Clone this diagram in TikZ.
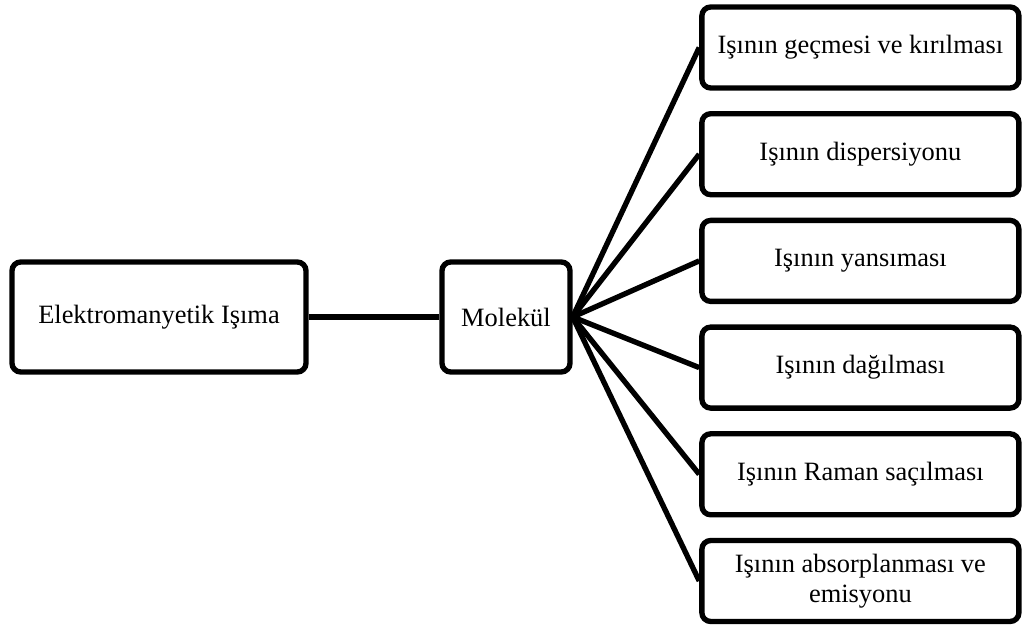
\documentclass[tikz,border=0pt]{standalone}
\usepackage{fontspec}
\setmainfont{Liberation Serif}

\tikzset{
  box/.style={draw, line width=3.8pt, rounded corners=0.22cm, align=center,
    inner sep=0pt, font=\fontsize{18.8}{21}\selectfont},
  bigbox/.style={box, minimum height=2.75cm},
  leafbox/.style={box, minimum width=7.925cm, minimum height=2.025cm},
  link/.style={line width=3.8pt}
}

\begin{document}
\begin{tikzpicture}
  \useasboundingbox (0,0) rectangle (25.625cm,15.675cm);
  % left part
  \node[bigbox, minimum width=7.35cm] (isima) at (3.975cm,7.75cm) {Elektromanyetik Işıma};
  \node[bigbox, minimum width=3.2cm] (molekul) at (12.65cm,7.75cm) {Molekül};
  % right column
  \node[leafbox] (gecme) at (21.51cm,14.4875cm) {Işının geçmesi ve kırılması};
  \node[leafbox] (dispersiyon) at (21.51cm,11.82cm) {Işının dispersiyonu};
  \node[leafbox] (yansima) at (21.51cm,9.1525cm) {Işının yansıması};
  \node[leafbox] (dagilma) at (21.51cm,6.485cm) {Işının dağılması};
  \node[leafbox] (raman) at (21.51cm,3.8175cm) {Işının Raman saçılması};
  \node[leafbox] (absorp) at (21.51cm,1.15cm) {Işının absorplanması ve\\emisyonu};
  % connectors
  \draw[link] (isima) -- (molekul);
  \draw[link] (molekul.east) -- (gecme.west);
  \draw[link] (molekul.east) -- (dispersiyon.west);
  \draw[link] (molekul.east) -- (yansima.west);
  \draw[link] (molekul.east) -- (dagilma.west);
  \draw[link] (molekul.east) -- (raman.west);
  \draw[link] (molekul.east) -- (absorp.west);
\end{tikzpicture}
\end{document}
